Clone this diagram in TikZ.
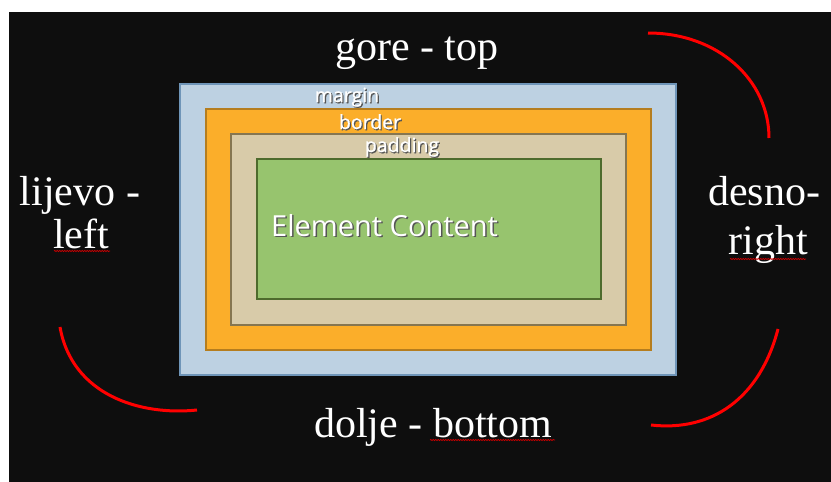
\documentclass[tikz,border=0pt]{standalone}
\usepackage{fontspec}
\setmainfont{Liberation Serif}
\newfontfamily\boxfont{Open Sans}
\newfontfamily\boxfontb[FakeBold=0.8]{Open Sans}
\usetikzlibrary{decorations.pathmorphing}
\definecolor{bg}{HTML}{0E0E0E}
\definecolor{mfill}{HTML}{BDD1E2}
\definecolor{mdraw}{HTML}{6F95B8}
\definecolor{bfill}{HTML}{FBAE2A}
\definecolor{bdraw}{HTML}{B57D1E}
\definecolor{pfill}{HTML}{D8CBA9}
\definecolor{pdraw}{HTML}{857651}
\definecolor{cfill}{HTML}{97C46E}
\definecolor{cdraw}{HTML}{4E6B2D}
\definecolor{shade}{HTML}{555555}
\tikzset{
  side/.style={text=white, inner sep=0pt, anchor=base, font=\fontsize{42}{48}\selectfont},
  lab/.style={text=white, inner sep=0pt, anchor=base, font=\boxfontb\fontsize{19.5}{24}\selectfont},
  labsh/.style={text=shade, inner sep=0pt, anchor=base, font=\boxfontb\fontsize{19.5}{24}\selectfont},
  arc/.style={red, line width=3pt},
  squig/.style={red!80!black, line width=0.7pt, decorate, decoration={snake, amplitude=0.6pt, segment length=2.5pt}},
  boxe/.style={line width=2pt}
}
\begin{document}
\begin{tikzpicture}[x=1pt,y=-1pt]
\useasboundingbox (0,0) rectangle (831,482);
\fill[white] (0,0) rectangle (831,482);
\fill[bg] (9,12) rectangle (831,482);
% boxes
\draw[boxe, fill=mfill, draw=mdraw] (179.5,83.5) rectangle (675.5,374.5);
\draw[boxe, fill=bfill, draw=bdraw] (205.5,108.5) rectangle (650.5,349.5);
\draw[boxe, fill=pfill, draw=pdraw] (230.5,133.5) rectangle (625.5,324.5);
\draw[boxe, fill=cfill, draw=cdraw] (256.5,158.5) rectangle (600.5,298.5);
% box labels
\node[labsh] (margins) at (348.2,103.2) {margin};
\node[lab] (margin) at (347,102) {margin};
\node[labsh] (borders) at (371.2,130.2) {border};
\node[lab] (border) at (370,129) {border};
\node[labsh] (paddings) at (403.2,153.2) {padding};
\node[lab] (padding) at (402,152) {padding};
\node[text=shade, inner sep=0pt, anchor=base west, font=\boxfont\fontsize{29}{34}\selectfont] (contents) at (272.5,237.5) {Element Content};
\node[text=white, inner sep=0pt, anchor=base west, font=\boxfont\fontsize{29}{34}\selectfont] (content) at (271,236) {Element Content};
% side labels
\node[side] (top) at (417,60) {gore - top};
\node[side] (bottom) at (433,437) {dolje - bottom};
\node[side] (left1) at (80,205) {lijevo -};
\node[side] (left2) at (81,248) {left};
\node[side] (right1) at (764,205) {desno-};
\node[side] (right2) at (768,254) {right};
% spell-check underlines
\draw[squig] (54,251) -- (110,251);
\draw[squig] (730,259) -- (806,259);
\draw[squig] (430,440) -- (555,440);
% red arcs
\draw[arc] (648,33) .. controls (718,33) and (769,80) .. (769,138);
\draw[arc] (60,327) .. controls (72,395) and (140,416) .. (197,410);
\draw[arc] (778,329) .. controls (760,398) and (712,432) .. (651,425);
\end{tikzpicture}
\end{document}
